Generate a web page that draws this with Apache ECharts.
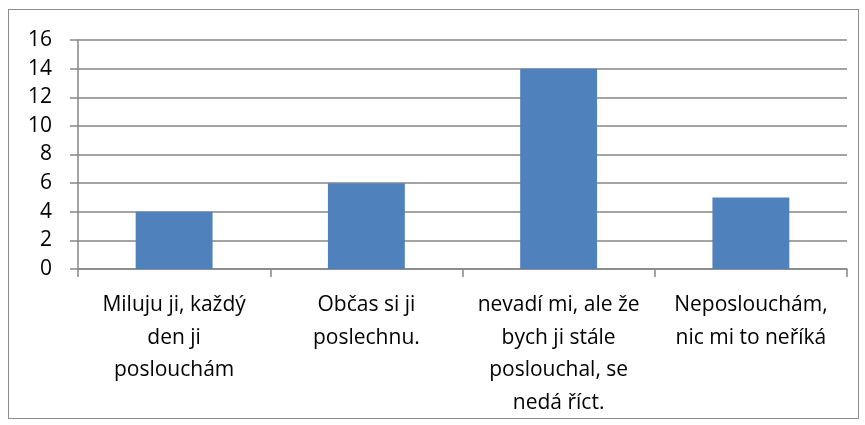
<!DOCTYPE html>
<html>
<head>
<meta charset="utf-8">
<script src="https://cdn.jsdelivr.net/npm/echarts@6/dist/echarts.min.js"></script>
<style>
  html, body { margin: 0; padding: 0; background: #fff; }
  #frame { position: absolute; left: 8px; top: 9px; width: 849px; height: 408px; border: 1px solid #8c8c8c; }
  #chart { position: absolute; left: 0; top: 0; width: 865px; height: 425px; }
</style>
</head>
<body>
<div id="frame"></div>
<div id="chart"></div>
<script>
const categories = [
  "Miluju ji, každý\nden ji\nposlouchám",
  "Občas si ji\nposlechnu.",
  "nevadí mi, ale že\nbych ji stále\nposlouchal, se\nnedá říct.",
  "Neposlouchám,\nnic mi to neříká"
];
const values = [4, 6, 14, 5];

const chart = echarts.init(document.getElementById("chart"));
const font = "Open Sans";
const gray = "#868686";

chart.setOption({
  animation: false,
  grid: { left: 78, right: 18, top: 40, bottom: 156 },
  xAxis: {
    type: "category",
    data: categories,
    axisLine: { lineStyle: { color: gray, width: 1.5 } },
    axisTick: { show: true, length: 8, lineStyle: { color: gray, width: 1.5 } },
    axisLabel: {
      color: "#000",
      fontFamily: font,
      fontSize: 21,
      lineHeight: 32.5,
      margin: 20,
      interval: 0
    }
  },
  yAxis: {
    type: "value",
    min: 0,
    max: 16,
    interval: 2,
    axisLine: { show: true, lineStyle: { color: gray, width: 1.5 } },
    axisTick: { show: true, length: 8, lineStyle: { color: gray, width: 1.5 } },
    splitLine: { lineStyle: { color: gray, width: 1.5 } },
    axisLabel: {
      color: "#000",
      fontFamily: font,
      fontSize: 21,
      margin: 26
    }
  },
  series: [
    {
      type: "bar",
      data: values,
      barWidth: "40%",
      itemStyle: { color: "#4f81bd" }
    }
  ]
});
</script>
</body>
</html>
